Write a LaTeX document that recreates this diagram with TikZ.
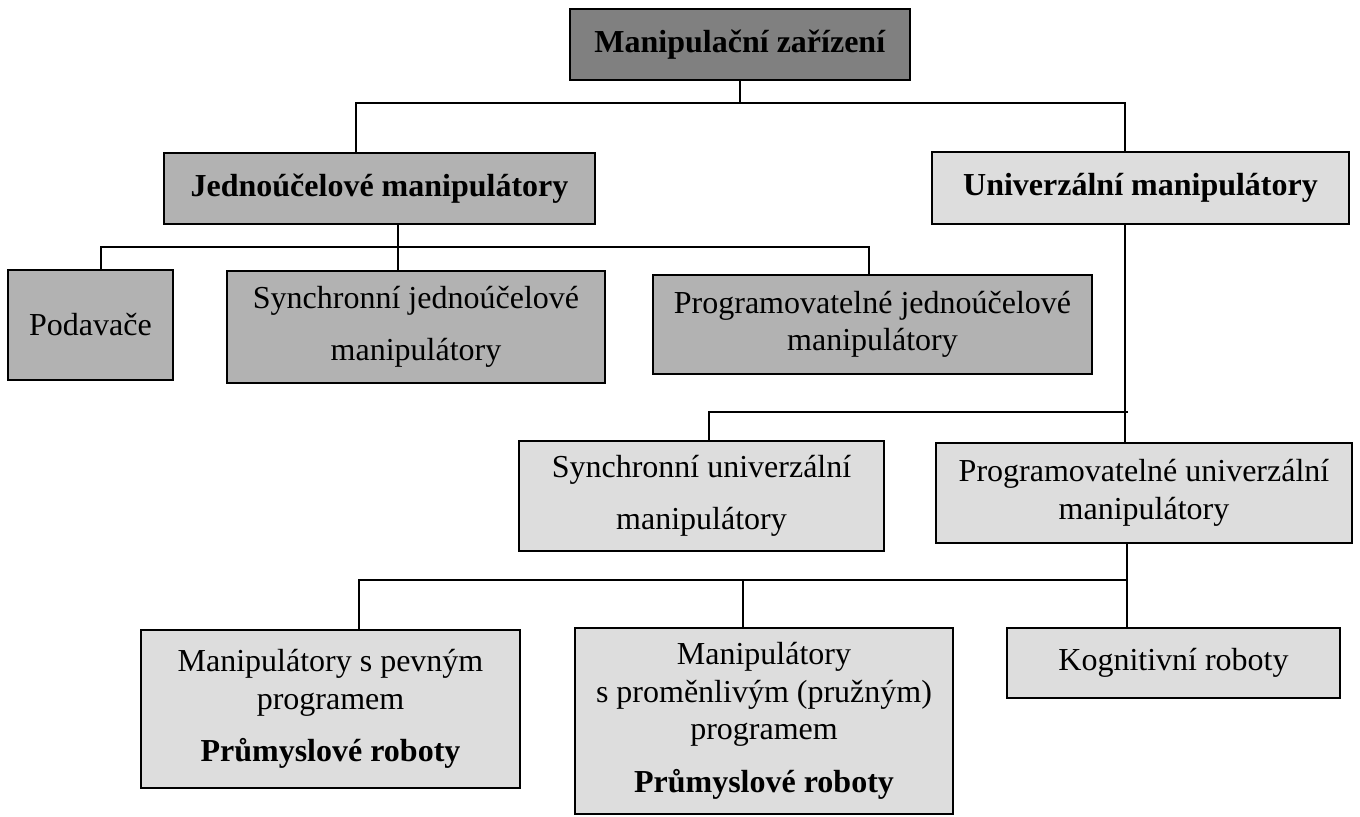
\documentclass[tikz,border=0pt]{standalone}
\usepackage{fontspec}
\setmainfont{Liberation Serif}
\definecolor{darkbox}{RGB}{128,128,128}
\definecolor{midbox}{RGB}{178,178,178}
\definecolor{lightbox}{RGB}{221,221,221}
\begin{document}
\begin{tikzpicture}[x=0.5pt,y=-0.5pt,
  box/.style={draw=black,line width=0.9pt,rectangle,inner sep=0pt,align=center,
    font=\fontsize{16}{18.8}\selectfont},
  conn/.style={draw=black,line width=0.65pt}]
\path[fill=white,use as bounding box] (0,0) rectangle (1360,816);

% level 0
\node[box,fill=darkbox,minimum width=170pt,minimum height=35.5pt] (top) at (740,44.5) {\textbf{Manipulační zařízení}};
% level 1
\node[box,fill=midbox,minimum width=215.5pt,minimum height=35.5pt] (jedn) at (379.5,188.5) {\textbf{Jednoúčelové manipulátory}};
\node[box,fill=lightbox,minimum width=208.5pt,minimum height=36pt] (univ) at (1140.5,188) {\textbf{Univerzální manipulátory}};
% level 2 left
\node[box,fill=midbox,minimum width=82.5pt,minimum height=55pt] (pod) at (90.5,325) {Podavače};
\node[box,fill=midbox,minimum width=189pt,minimum height=56pt] (sjed) at (416,327) {Synchronní jednoúčelové\\[7.5pt] manipulátory};
\node[box,fill=midbox,minimum width=219.5pt,minimum height=49.5pt] (pjed) at (872.5,324.5) {Programovatelné jednoúčelové\\ manipulátory};
% level 2 right
\node[box,fill=lightbox,minimum width=182.5pt,minimum height=55pt] (suni) at (701.5,496) {Synchronní univerzální\\[7.5pt] manipulátory};
\node[box,fill=lightbox,minimum width=208pt,minimum height=50pt] (puni) at (1144,493) {Programovatelné univerzální\\ manipulátory};
% level 3
\node[box,fill=lightbox,minimum width=189.5pt,minimum height=79pt] (pev) at (330.5,709) {Manipulátory s pevným\\ programem\\[7.5pt] \textbf{Průmyslové roboty}};
\node[box,fill=lightbox,minimum width=189pt,minimum height=93pt] (prom) at (764,721) {Manipulátory\\ s proměnlivým (pružným)\\ programem\\[7.5pt] \textbf{Průmyslové roboty}};
\node[box,fill=lightbox,minimum width=166.5pt,minimum height=35pt] (kog) at (1173.5,663) {Kognitivní roboty};

% connectors level 0 -> 1
\coordinate (b1) at (356,103);
\coordinate (b2) at (1125,103);
\draw[conn] (top.south) -- (top.south |- b1);
\draw[conn] (b1 |- jedn.north) -- (b1) -- (b2) -- (b2 |- univ.north);

% jednoucelove children
\coordinate (j0) at (398,247);
\coordinate (j1) at (101,247);
\coordinate (j2) at (869,247);
\draw[conn] (j0 |- jedn.south) -- (j0 |- sjed.north);
\draw[conn] (j1 |- pod.north) -- (j1) -- (j2) -- (j2 |- pjed.north);

% univerzalni children
\coordinate (u0) at (1125,412);
\coordinate (u1) at (709,412);
\coordinate (u2) at (1128,412);
\draw[conn] (u0 |- univ.south) -- (u0 |- puni.north);
\draw[conn] (u1 |- suni.north) -- (u1) -- (u2);

% programovatelne univerzalni children
\coordinate (p0) at (1127,580);
\coordinate (p1) at (359,580);
\coordinate (p2) at (743,580);
\draw[conn] (p0 |- puni.south) -- (p0 |- kog.north);
\draw[conn] (p1 |- pev.north) -- (p1) -- (p0);
\draw[conn] (p2) -- (p2 |- prom.north);
\end{tikzpicture}
\end{document}
